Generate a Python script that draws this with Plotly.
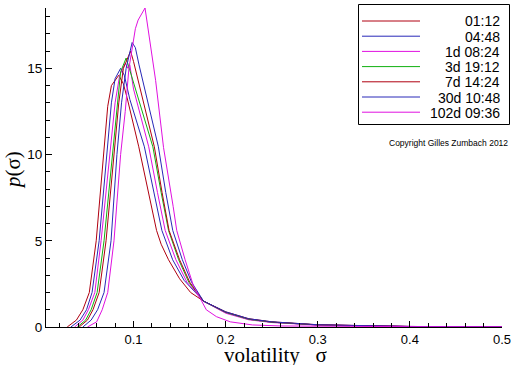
import plotly.graph_objects as go

labels = ["01:12", "04:48", "1d 08:24", "3d 19:12", "7d 14:24", "30d 10:48", "102d 09:36"]
colors = ["#b00010", "#2828b8", "#e010e0", "#10b010", "#b00010", "#2828b8", "#e010e0"]

x_0112 = [0.028, 0.038, 0.045, 0.052, 0.0595, 0.067, 0.072, 0.076, 0.084, 0.089, 0.093, 0.1057, 0.1165, 0.125, 0.130, 0.138, 0.150, 0.162, 0.176, 0.20, 0.225, 0.25, 0.30, 0.35, 0.40, 0.50]
y_0112 = [0.0, 0.4, 1.0, 2.0, 5.0, 10.0, 12.8, 14.0, 14.6, 14.1, 13.3, 10.45, 7.8, 5.6, 4.8, 3.9, 2.8, 2.0, 1.5, 0.85, 0.45, 0.28, 0.12, 0.06, 0.03, 0.01]

x_0448 = [0.032, 0.042, 0.049, 0.055, 0.0627, 0.071, 0.076, 0.080, 0.086, 0.090, 0.096, 0.1118, 0.1223, 0.1308, 0.1425, 0.155, 0.176, 0.20, 0.225, 0.25, 0.30, 0.35, 0.40, 0.50]
y_0448 = [0.0, 0.4, 1.0, 2.0, 5.0, 10.0, 13.0, 14.4, 15.0, 14.6, 13.2, 10.45, 7.8, 5.6, 3.9, 2.7, 1.5, 0.85, 0.45, 0.28, 0.12, 0.06, 0.03, 0.01]

x_1d = [0.036, 0.045, 0.051, 0.058, 0.0648, 0.0745, 0.080, 0.085, 0.088, 0.091, 0.094, 0.096, 0.100, 0.1165, 0.126, 0.1344, 0.146, 0.158, 0.176, 0.20, 0.225, 0.25, 0.30, 0.35, 0.40, 0.50]
y_1d = [0.0, 0.4, 1.0, 2.0, 5.0, 10.0, 13.0, 14.6, 15.0, 15.3, 15.0, 15.2, 13.8, 10.45, 7.8, 5.6, 3.9, 2.6, 1.5, 0.8, 0.42, 0.26, 0.11, 0.05, 0.03, 0.01]

x_3d = [0.039, 0.048, 0.054, 0.0605, 0.068, 0.077, 0.082, 0.086, 0.092, 0.096, 0.121, 0.130, 0.138, 0.149, 0.160, 0.176, 0.20, 0.225, 0.25, 0.30, 0.335]
y_3d = [0.0, 0.4, 1.0, 2.0, 5.0, 10.0, 13.0, 14.8, 15.6, 14.9, 10.45, 7.8, 5.6, 3.9, 2.6, 1.5, 0.85, 0.45, 0.28, 0.12, 0.06]

x_7d = [0.041, 0.050, 0.056, 0.0627, 0.0702, 0.079, 0.084, 0.089, 0.0968, 0.100, 0.1226, 0.131, 0.1386, 0.150, 0.161, 0.176, 0.20, 0.225, 0.25, 0.30, 0.35, 0.40, 0.50]
y_7d = [0.0, 0.4, 1.0, 2.0, 5.0, 10.0, 13.0, 15.0, 16.0, 15.4, 10.45, 7.8, 5.6, 3.9, 2.6, 1.5, 0.88, 0.48, 0.3, 0.13, 0.06, 0.03, 0.01]

x_30d = [0.045, 0.054, 0.061, 0.068, 0.0756, 0.082, 0.087, 0.092, 0.0985, 0.102, 0.106, 0.127, 0.135, 0.1426, 0.153, 0.163, 0.176, 0.20, 0.225, 0.25, 0.30, 0.35, 0.40, 0.50]
y_30d = [0.0, 0.4, 1.0, 2.0, 5.0, 10.0, 13.0, 15.0, 16.5, 16.2, 15.2, 10.45, 7.8, 5.6, 3.9, 2.6, 1.5, 0.88, 0.48, 0.3, 0.13, 0.06, 0.03, 0.01]

x_102d = [0.050, 0.060, 0.066, 0.072, 0.0788, 0.086, 0.091, 0.095, 0.099, 0.102, 0.105, 0.1125, 0.124, 0.1326, 0.143, 0.1469, 0.156, 0.165, 0.179, 0.19, 0.205, 0.229, 0.26, 0.30, 0.40, 0.50]
y_102d = [0.0, 0.3, 1.0, 2.0, 5.0, 10.0, 12.5, 15.0, 16.3, 17.3, 17.8, 18.5, 14.3, 10.4, 7.0, 5.6, 3.9, 2.4, 1.0, 0.6, 0.3, 0.12, 0.06, 0.04, 0.02, 0.01]

xs = [x_0112, x_0448, x_1d, x_3d, x_7d, x_30d, x_102d]
ys = [y_0112, y_0448, y_1d, y_3d, y_7d, y_30d, y_102d]

W, H = 512, 366
L, R, T, B = 46, 10, 8, 39
PW, PH = W - L - R, H - T - B


def px_x(p):
    return (p - L) / PW


def px_y(p):
    return (H - B - p) / PH


fig = go.Figure()
for lab, c, x, y in zip(labels, colors, xs, ys):
    fig.add_trace(go.Scatter(x=x, y=y, mode="lines", name=lab,
                             line=dict(color=c, width=1), showlegend=False))

sans = "Liberation Sans, Arial, sans-serif"
serif = "Liberation Serif, Times New Roman, serif"
tickfont = dict(family=sans, size=13, color="black")

shapes = []
annotations = []
shapes.append(dict(type="rect", xref="paper", yref="paper",
                   x0=px_x(358.5), x1=px_x(509.5), y0=px_y(4.5), y1=px_y(124.5),
                   line=dict(color="black", width=1), fillcolor="white", layer="above"))
for i, (lab, c) in enumerate(zip(labels, colors)):
    yy = 21 + 15.2 * i
    shapes.append(dict(type="line", xref="paper", yref="paper",
                       x0=px_x(362), x1=px_x(420), y0=px_y(yy), y1=px_y(yy),
                       line=dict(color=c, width=1), layer="above"))
    annotations.append(dict(text=lab, x=px_x(502), y=px_y(yy), xref="paper", yref="paper",
                            xanchor="right", yanchor="middle", showarrow=False, height=15,
                            font=dict(family=sans, size=14, color="black")))

annotations.append(dict(text="Copyright Gilles Zumbach 2012", x=px_x(510), y=px_y(143),
                        xref="paper", yref="paper", xanchor="right", yanchor="middle",
                        showarrow=False, font=dict(family=sans, size=8.5, color="black")))
annotations.append(dict(text="volatility\u00a0\u00a0\u00a0σ", x=px_x(275), y=px_y(355),
                        xref="paper", yref="paper", xanchor="center", yanchor="middle",
                        showarrow=False, height=20, font=dict(family=serif, size=21, color="black")))
annotations.append(dict(text="<i>p</i>(σ)", x=px_x(13), y=px_y(170), textangle=-90,
                        xref="paper", yref="paper", xanchor="center", yanchor="middle",
                        showarrow=False, font=dict(family=serif, size=21, color="black")))

fig.update_layout(
    width=W, height=H,
    margin=dict(l=L, r=R, t=T, b=B, autoexpand=False),
    paper_bgcolor="white", plot_bgcolor="white",
    showlegend=False,
    xaxis=dict(range=[0.005, 0.5], showline=True, linecolor="black", linewidth=1,
               showgrid=False, zeroline=False, ticks="inside", ticklen=6, tickcolor="black",
               tick0=0, dtick=0.1, tickformat=".1f", tickfont=tickfont,
               minor=dict(dtick=0.02, tick0=0, ticks="inside", ticklen=4, tickcolor="black"),
               automargin=False),
    yaxis=dict(range=[0, 18.5], showline=True, linecolor="black", linewidth=1,
               showgrid=False, zeroline=False, ticks="inside", ticklen=6, tickcolor="black",
               tick0=0, dtick=5, tickfont=dict(family=sans, size=13.5, color="black"),
               minor=dict(dtick=1, tick0=0, ticks="inside", ticklen=4, tickcolor="black"),
               automargin=False),
    shapes=shapes,
    annotations=annotations,
)

fig.write_html("out.html", config={"displayModeBar": False},
               post_script="document.body.style.margin='0';document.body.style.padding='0';")
